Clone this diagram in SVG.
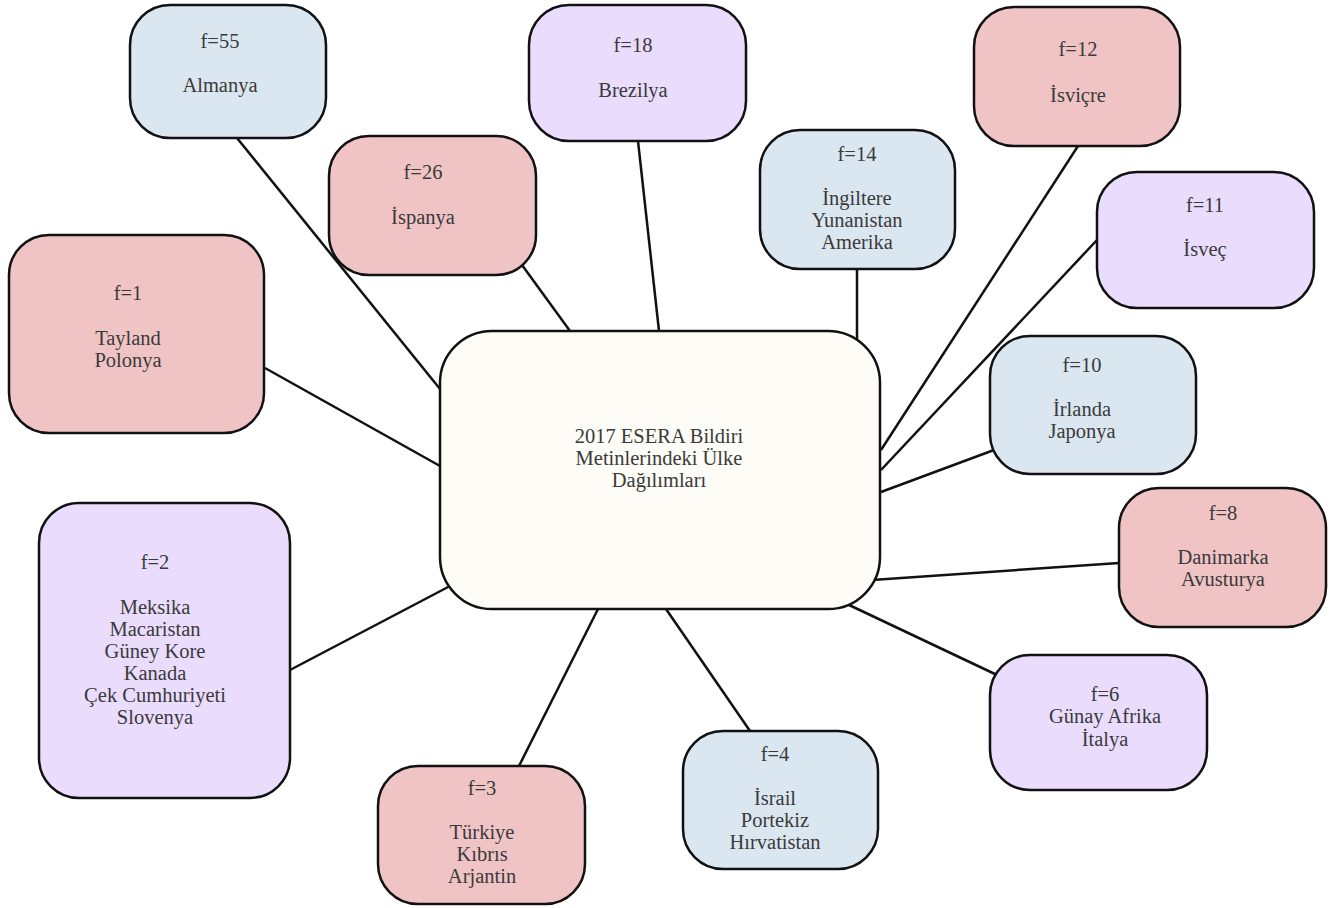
<svg xmlns="http://www.w3.org/2000/svg" width="1333" height="908" viewBox="0 0 1333 908">
<style>
.n{stroke:#111;stroke-width:2.5}
.b{fill:#dae6f0}.p{fill:#eadcfd}.r{fill:#f0c4c5}.c{fill:#fdfcf6}
text{font-family:"Liberation Serif","Times New Roman",serif;font-size:20.5px;fill:#3a3a3a;text-anchor:middle}
.e line{stroke:#111;stroke-width:2.5}
</style>
<rect width="1333" height="908" fill="#fff"/>
<g id="connectors" class="e">
<line x1="237" y1="138" x2="440" y2="389"/>
<line x1="522" y1="265" x2="570" y2="331"/>
<line x1="638" y1="141" x2="659" y2="331"/>
<line x1="857" y1="269" x2="857" y2="342"/>
<line x1="1078" y1="146" x2="881" y2="450"/>
<line x1="1097" y1="240" x2="881" y2="470"/>
<line x1="994" y1="450" x2="881" y2="492"/>
<line x1="1119" y1="563" x2="872" y2="580"/>
<line x1="997" y1="675" x2="847" y2="604"/>
<line x1="750" y1="731" x2="666" y2="609"/>
<line x1="519" y1="766" x2="598" y2="609"/>
<line x1="290" y1="670" x2="450" y2="586"/>
<line x1="265" y1="368" x2="440" y2="466"/>
</g>
<g id="center">
<rect class="n c" x="440" y="331" width="440" height="278" rx="52"/>
<text x="659" y="443">2017 ESERA Bildiri</text>
<text x="659" y="465">Metinlerindeki Ülke</text>
<text x="659" y="487">Dağılımları</text>
</g>
<g id="almanya">
<rect class="n b" x="130" y="5" width="196" height="133" rx="40"/>
<text x="220" y="48">f=55</text>
<text x="220" y="92">Almanya</text>
</g>
<g id="brezilya">
<rect class="n p" x="529" y="5" width="217" height="136" rx="40"/>
<text x="633" y="52">f=18</text>
<text x="633" y="97">Brezilya</text>
</g>
<g id="isvicre">
<rect class="n r" x="974" y="7" width="206" height="139" rx="40"/>
<text x="1078" y="56">f=12</text>
<text x="1078" y="102">İsviçre</text>
</g>
<g id="ispanya">
<rect class="n r" x="329" y="136" width="207" height="139" rx="40"/>
<text x="423" y="179">f=26</text>
<text x="423" y="224">İspanya</text>
</g>
<g id="ingiltere">
<rect class="n b" x="760" y="130" width="195" height="139" rx="40"/>
<text x="857" y="161">f=14</text>
<text x="857" y="205">İngiltere</text>
<text x="857" y="227">Yunanistan</text>
<text x="857" y="249">Amerika</text>
</g>
<g id="isvec">
<rect class="n p" x="1097" y="172" width="217" height="136" rx="40"/>
<text x="1205" y="212">f=11</text>
<text x="1205" y="256">İsveç</text>
</g>
<g id="tayland">
<rect class="n r" x="9" y="235" width="255" height="198" rx="40"/>
<text x="128" y="300">f=1</text>
<text x="128" y="345">Tayland</text>
<text x="128" y="367">Polonya</text>
</g>
<g id="irlanda">
<rect class="n b" x="990" y="336" width="206" height="138" rx="40"/>
<text x="1082" y="372">f=10</text>
<text x="1082" y="416">İrlanda</text>
<text x="1082" y="438">Japonya</text>
</g>
<g id="danimarka">
<rect class="n r" x="1119" y="488" width="207" height="139" rx="40"/>
<text x="1223" y="520">f=8</text>
<text x="1223" y="564">Danimarka</text>
<text x="1223" y="586">Avusturya</text>
</g>
<g id="f2">
<rect class="n p" x="39" y="503" width="251" height="295" rx="40"/>
<text x="155" y="569">f=2</text>
<text x="155" y="614">Meksika</text>
<text x="155" y="636">Macaristan</text>
<text x="155" y="658">Güney Kore</text>
<text x="155" y="680">Kanada</text>
<text x="155" y="702">Çek Cumhuriyeti</text>
<text x="155" y="724">Slovenya</text>
</g>
<g id="f6">
<rect class="n p" x="990" y="655" width="217" height="135" rx="40"/>
<text x="1105" y="701">f=6</text>
<text x="1105" y="723">Günay Afrika</text>
<text x="1105" y="746">İtalya</text>
</g>
<g id="f4">
<rect class="n b" x="683" y="731" width="195" height="138" rx="40"/>
<text x="775" y="761">f=4</text>
<text x="775" y="805">İsrail</text>
<text x="775" y="827">Portekiz</text>
<text x="775" y="849">Hırvatistan</text>
</g>
<g id="f3">
<rect class="n r" x="378" y="766" width="207" height="138" rx="40"/>
<text x="482" y="795">f=3</text>
<text x="482" y="839">Türkiye</text>
<text x="482" y="861">Kıbrıs</text>
<text x="482" y="883">Arjantin</text>
</g>
</svg>
